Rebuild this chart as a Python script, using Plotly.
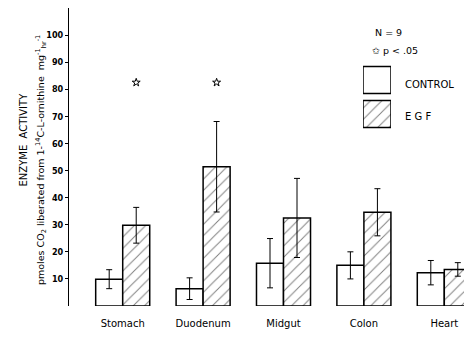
import plotly.graph_objects as go

# ---- data ----
categories = ["Stomach", "Duodenum", "Midgut", "Colon", "Heart"]
control = [9.9, 6.4, 15.8, 15.0, 12.3]
control_err = [3.5, 4.0, 9.1, 5.0, 4.5]
egf = [29.8, 51.4, 32.5, 34.6, 13.5]
egf_err = [6.6, 16.7, 14.6, 8.7, 2.5]
significant = [True, True, False, False, False]
star_level = 82.5
y_ticks = [10, 20, 30, 40, 50, 60, 70, 80, 90, 100]

FONT = "DejaVu Sans"
BW = 0.336  # bar width in category units

xs = list(range(len(categories)))

fig = go.Figure()
fig.add_trace(go.Bar(
    x=xs, y=control, width=BW, offset=-BW,
    marker=dict(color="white", line=dict(color="black", width=1.5)),
    error_y=dict(type="data", array=control_err, color="black", thickness=1, width=3),
    name="CONTROL", showlegend=False,
))
fig.add_trace(go.Bar(
    x=xs, y=egf, width=BW, offset=0,
    marker=dict(color="white", line=dict(color="black", width=1.5),
                pattern=dict(shape="/", fgcolor="black", bgcolor="white", size=8, solidity=0.12)),
    error_y=dict(type="data", array=egf_err, color="black", thickness=1, width=3),
    name="EGF", showlegend=False,
))
star_x = [i + BW / 2 for i, s in zip(xs, significant) if s]
fig.add_trace(go.Scatter(
    x=star_x, y=[star_level] * len(star_x), mode="markers",
    marker=dict(symbol="star-open", size=6, color="black", line=dict(width=1)),
    showlegend=False, hoverinfo="skip",
))

# legend boxes on an overlay axis
fig.add_trace(go.Bar(
    x=[1], y=[1], orientation="h", width=0.8, xaxis="x2", yaxis="y2",
    marker=dict(color="white", line=dict(color="black", width=1.5)), showlegend=False,
))
fig.add_trace(go.Bar(
    x=[1], y=[0], orientation="h", width=0.8, xaxis="x2", yaxis="y2",
    marker=dict(color="white", line=dict(color="black", width=1.5),
                pattern=dict(shape="/", fgcolor="black", bgcolor="white", size=8, solidity=0.12)),
    showlegend=False,
))

L, T, B = 69, 8, 33
PW, PH = 464 - L, 339 - T - B
def px(xp):
    return (xp - L) / PW
def py(yp):
    return (339 - B - yp) / PH

fig.update_layout(
    width=464, height=339, autosize=False,
    margin=dict(l=L, r=0, t=T, b=B),
    paper_bgcolor="white", plot_bgcolor="white",
    barmode="overlay",
    font=dict(family=FONT, color="black"),
    xaxis=dict(range=[-0.668, 4.245], tickvals=xs, ticktext=categories,
               showgrid=False, zeroline=False, showline=False, ticks="",
               ticklabeloverflow="allow",
               tickfont=dict(size=10, family=FONT, color="black"), ticklabelstandoff=10),
    yaxis=dict(range=[0, 110], tickvals=y_ticks, showgrid=False, zeroline=False,
               showline=True, linecolor="black", linewidth=1,
               ticks="outside", ticklen=3, tickcolor="black",
               tickfont=dict(size=9, family="DejaVu Sans Condensed", color="black", weight="bold")),
    xaxis2=dict(domain=[px(363), px(391)], range=[0, 1], anchor="y2",
                visible=False, fixedrange=True),
    yaxis2=dict(domain=[py(131), py(63)], range=[-0.5, 1.5], anchor="x2",
                visible=False, fixedrange=True),
)

ann = []
ann.append(dict(text="ENZYME  ACTIVITY", x=px(15), y=py(140), xref="paper", yref="paper",
                textangle=-90, showarrow=False, font=dict(size=10, family=FONT)))
ann.append(dict(text="pmoles CO<sub>2</sub> liberated from 1-<sup>14</sup>C-L-ornithine  mg<sup>-1</sup><sub>hr</sub><sup>-1</sup>",
                x=px(32), y=py(160), xref="paper", yref="paper",
                textangle=-90, showarrow=False, font=dict(size=9.5, family=FONT)))
ann.append(dict(text="N = 9", x=px(373), y=py(25), xref="paper", yref="paper",
                xanchor="left", showarrow=False, font=dict(size=9.5, family=FONT)))
ann.append(dict(text="\u2729 p < .05", x=px(370), y=py(43), xref="paper", yref="paper",
                xanchor="left", showarrow=False, font=dict(size=9.5, family=FONT)))
ann.append(dict(text="CONTROL", x=px(403), y=py(77), xref="paper", yref="paper",
                xanchor="left", showarrow=False, font=dict(size=10, family=FONT)))
ann.append(dict(text="E G F", x=px(403), y=py(117), xref="paper", yref="paper",
                xanchor="left", showarrow=False, font=dict(size=10, family=FONT)))
fig.update_layout(annotations=ann)

fig.write_html("out.html", config={"displayModeBar": False},
               post_script="document.body.style.margin='0';document.body.style.overflow='hidden';")
